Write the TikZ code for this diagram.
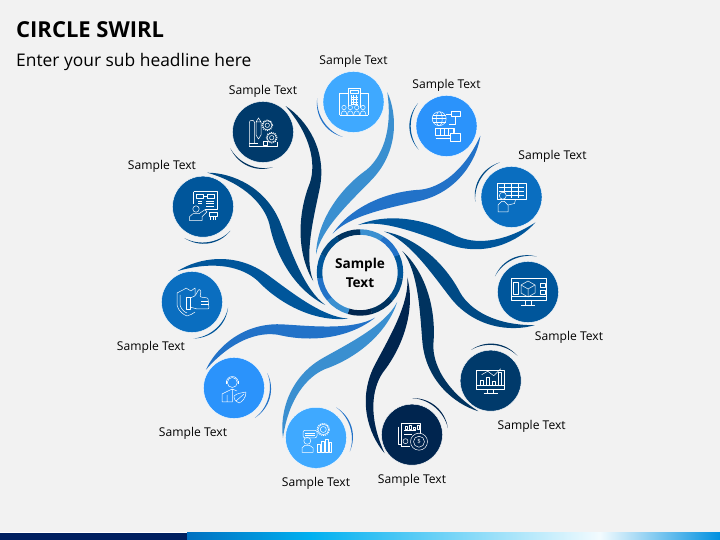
\documentclass[tikz,border=0pt]{standalone}
\usepackage{fontspec}
\setmainfont{Open Sans}
\usepackage{tikz}
\definecolor{paper}{HTML}{F2F2F2}
\definecolor{skyA}{HTML}{3FA9FF}
\definecolor{skyB}{HTML}{2B93FB}
\definecolor{midA}{HTML}{0A6EC0}
\definecolor{midB}{HTML}{00569B}
\definecolor{navyA}{HTML}{003A6B}
\definecolor{navyB}{HTML}{00254F}
\definecolor{bandA}{HTML}{3A8FD0}
\definecolor{bandB}{HTML}{2272C8}
\definecolor{bandC}{HTML}{00569B}
\definecolor{bandD}{HTML}{004A85}
\definecolor{bandE}{HTML}{00335F}
\definecolor{bandF}{HTML}{00254F}
\definecolor{barA}{HTML}{002060}
\definecolor{barB}{HTML}{0070C0}
\definecolor{barC}{HTML}{00B0F0}
\definecolor{barD}{HTML}{0090E0}

\begin{document}
\begin{tikzpicture}[x=1pt, y=1pt, node distance=43pt]
        \tikzstyle{disc}=[circle, inner sep=0pt, minimum size=61pt, draw=white, line width=.4pt]
        \tikzstyle{caption}=[inner sep=0pt, yshift=-2.2pt, font=\fontsize{12.1}{14}\selectfont, text=black]
        \tikzstyle{icon}=[draw=white, line width=.5pt, line join=round]
        \useasboundingbox (0,0) rectangle (720,540);
        \fill [paper] (0,0) rectangle (720,540);
        % bottom bar
        \fill [white] (0,7) rectangle (388,8.2);
        \fill [white] (695,7) rectangle (720,8.2);
        \fill [barA] (0,0) rectangle (187,7);
        \shade [left color=barB, right color=barC] (187,0) rectangle (310,7);
        \shade [left color=barC, right color=white!95!barC] (310,0) rectangle (600,7);
        \shade [left color=white!95!barC, right color=barD] (600,0) rectangle (720,7);
        % headings
        \node (title) [anchor=base west, inner sep=0pt, font=\bfseries\fontsize{22}{26}\selectfont] at (16,502.5) {CIRCLE SWIRL};
        \node (subtitle) [anchor=base west, inner sep=0pt, font=\fontsize{17.4}{21}\selectfont] at (16,473.5) {Enter your sub headline here};
        % hub
        \node (hub) [align=center, inner sep=0pt, font=\bfseries\fontsize{13.6}{19}\selectfont] at (360,267.5) {Sample\\Text};
        % swirls, each one turned about the hub
        \foreach \k/\col in {0/bandA,1/bandB,2/bandC,3/bandD,4/bandE,5/bandF,6/bandA,7/bandB,8/bandC,9/bandD,10/bandE} {
          \begin{scope}[shift={(hub)}, rotate=-32.73*\k]
            \fill [\col] (27.3,180.3) .. controls (37.5,158) and (39,120) .. (10.5,91.5)
              .. controls (-9.5,71) and (-39,43.5) .. (-44,18)
              .. controls (-43,51) and (-21,83) .. (6.3,102.5)
              .. controls (21.5,115) and (33,141) .. (27.3,180.3) -- cycle;
            \draw [\col, line width=5.5pt] (90:40.5) arc [start angle=90, end angle=57, radius=40.5];
          \end{scope}
        }
        % discs
        \node [disc, fill=skyA] (n1) at (353.5,438) {};
        \node [disc, fill=skyB] (n2) at (446.5,414) {};
        \node [disc, fill=midA] (n3) at (511.5,343) {};
        \node [disc, fill=midB] (n4) at (528,248) {};
        \node [disc, fill=navyA] (n5) at (490.7,159.3) {};
        \node [disc, fill=navyB] (n6) at (412,105.3) {};
        \node [disc, fill=skyA] (n7) at (316,102.2) {};
        \node [disc, fill=skyB] (n8) at (234,152) {};
        \node [disc, fill=midA] (n9) at (192,238) {};
        \node [disc, fill=midB] (n10) at (203,333.3) {};
        \node [disc, fill=navyA] (n11) at (263,408) {};
        % crescents
        \foreach \k/\col in {1/bandB,2/bandC,3/bandD,4/bandD,5/bandE,6/bandF,7/bandB,8/bandB,9/bandC,10/bandD,11/bandE} {
          \begin{scope}[shift={(n\k)}, rotate=-32.73*(\k-1)]
            \fill [\col] (-36.3,3.8) .. controls (-38.7,-14) and (-28.2,-30.3) .. (-10.7,-34.9)
              .. controls (-26.6,-29.3) and (-37.3,-13.1) .. (-36.3,3.8) -- cycle;
          \end{scope}
        }
        % captions
        \node [caption] (c1) [above of=n1] {Sample Text};
        \node [caption] (c2) [above of=n2] {Sample Text};
        \node [caption] (c3) [above of=n3, xshift=41pt] {Sample Text};
        \node [caption] (c4) [below of=n4, xshift=41pt] {Sample Text};
        \node [caption] (c5) [below of=n5, xshift=41pt] {Sample Text};
        \node [caption] (c6) [below of=n6] {Sample Text};
        \node [caption] (c7) [below of=n7] {Sample Text};
        \node [caption] (c8) [below of=n8, xshift=-41pt] {Sample Text};
        \node [caption] (c9) [below of=n9, xshift=-41pt] {Sample Text};
        \node [caption] (c10) [above of=n10, xshift=-41pt] {Sample Text};
        \node [caption] (c11) [above of=n11] {Sample Text};
        % icon: towers and people
        \begin{scope}[shift={(n1)}]
          \draw [icon] (-5.3,-6) -- (-5.3,14) -- (7,14) -- (7,-6);
          \draw [icon] (-14,-13) -- (-14,9) -- (-5.3,9) (14.7,-13) -- (14.7,9) -- (7,9);
          \draw [icon] (-3,9) rectangle (4.5,12);
          \draw [icon, step=2.5] (-3,-3) grid (4.5,7);
          \draw [icon] (-14,-13) -- (14.7,-13);
          \foreach \x in {-9.5,-3.2,3.2,9.5} {
            \draw [icon, fill=skyA] (\x,-5.5) circle (2.2);
            \draw [icon, fill=skyA] (\x-3,-13) .. controls (\x-3,-7.5) and (\x+3,-7.5) .. (\x+3,-13);
          }
        \end{scope}
        % icon: globe and flow chart
        \begin{scope}[shift={(n2)}]
          \draw [icon] (-7.3,7.3) circle (7) (-7.3,7.3) ellipse (3 and 7);
          \draw [icon] (-14.3,7.3) -- (-.3,7.3) (-13.5,11) -- (-1,11) (-13.5,3.6) -- (-1,3.6);
          \draw [icon] (5,10) rectangle (14,14.5) (-.3,12) -- (5,12) (9,10) -- (9,2) -- (2,2);
          \draw [icon] (-11,-2) rectangle (8,-9) (-11,-12) -- (4,-12) -- (4,-9);
          \draw [icon] (-6,-2) -- (-6,-9) (-2,-2) -- (-2,-9) (2,-2) -- (2,-9);
          \draw [icon, fill=skyB] (4,-15) rectangle (14,-7) (7,-7) -- (7,-2);
        \end{scope}
        % icon: table and presenter
        \begin{scope}[shift={(n3)}]
          \draw [icon] (-14.7,-2.7) rectangle (14.3,14);
          \foreach \y in {1.5,5.5,9.5} {\draw [icon] (-13,\y) -- (12.5,\y);}
          \foreach \x in {-7,0,7} {\draw [icon] (\x,12.5) -- (\x,-1);}
          \draw [icon, fill=midA] (-8.7,1.3) circle (3.5);
          \draw [icon, fill=midA] (-13.5,-15) -- (-13.5,-8) -- (-10,-4.5) -- (-7,-4.5) -- (-3.5,-8) -- (-3.5,-15) -- cycle;
          \draw [icon] (-3.5,-8) -- (3,-6.5) -- (4,-2.7);
        \end{scope}
        % icon: monitor and cube
        \begin{scope}[shift={(n4)}]
          \draw [icon] (-16.7,-8) rectangle (18,14) (-16.7,-4) -- (18,-4);
          \draw [icon] (-3,-8) -- (-3,-13) (3,-8) -- (3,-13) (-7,-13) -- (7,-13);
          \draw [icon] (-14.5,-2) rectangle (-10,10);
          \draw [icon] (12,9) rectangle (17,4.5) (12,2) rectangle (17,-2);
          \draw [icon] (0,11) -- (7,7) -- (7,-1) -- (0,-5) -- (-7,-1) -- (-7,7) -- cycle;
          \draw [icon] (-7,7) -- (0,3) -- (7,7) (0,3) -- (0,-5);
        \end{scope}
        % icon: monitor and charts
        \begin{scope}[shift={(n5)}]
          \draw [icon] (-14,-9) rectangle (14,10.5) (-14,-5) -- (14,-5);
          \draw [icon] (-3,-9) -- (-3,-13) (3,-9) -- (3,-13) (-7,-13) -- (7,-13);
          \draw [icon] (-10,-5) rectangle (-7,0) (-4,-5) rectangle (-1,3) (2,-5) rectangle (5,-1) (8,-5) rectangle (11,8);
          \draw [icon] (-9,6) -- (-3,9.5) -- (3,5) -- (10,12);
        \end{scope}
        % icon: invoice and coin
        \begin{scope}[shift={(n6)}]
          \draw [icon] (-11,-12) -- (-11,11.3) -- (8,11.3) -- (8,0) (-11,-12) -- (-2,-12);
          \draw [icon] (-13.7,8) -- (-13.7,-9.5) -- (-11,-9.5);
          \draw [icon] (-8,4) -- (4,4) (-8,0) -- (0,0);
          \draw [icon] (-7,5) rectangle (-5,8) (-3,5) rectangle (-1,9.5) (1,5) rectangle (3,7.5) (5,5) rectangle (7,9);
          \draw [icon] (-6.5,-6.5) circle (2.5);
          \draw [icon, fill=navyB] (7,-7) circle (8.5) (7,-7) circle (5.5);
          \node (c6coin) [text=white, inner sep=0pt, font=\fontsize{6}{6}\selectfont] at (7,-7) {\$};
        \end{scope}
        % icon: speaker, gear and bars
        \begin{scope}[shift={(n7)}]
          \draw [icon, rounded corners=2pt] (-13,0) rectangle (1,7.5);
          \draw [icon] (-11,2.5) -- (-1,2.5) (-11,5) -- (-1,5);
          \draw [icon] (7.3,8.3) circle (3) (7.3,8.3) circle (5.3);
          \draw [icon, dash pattern=on 1pt off 1pt, line width=1pt] (7.3,8.3) circle (6);
          \draw [icon] (-8.7,-3) circle (3.5);
          \draw [icon] (-14,-14.5) -- (-14,-10) -- (-11,-7.5) -- (-6.5,-7.5) -- (-3,-10) -- (-3,-14.5) -- cycle;
          \draw [icon] (1,-14.5) rectangle (4,-6) (5,-14.5) rectangle (8,-3) (9,-14.5) rectangle (12,-1) (13,-14.5) rectangle (15.5,-4);
        \end{scope}
        % icon: headset agent and shield
        \begin{scope}[shift={(n8)}]
          \draw [icon] (-1.7,5.5) circle (5);
          \draw [icon] (-7.7,5.5) arc [start angle=180, end angle=0, radius=6];
          \draw [icon, line width=1pt] (-8,4) -- (-8,7) (4.6,4) -- (4.6,7);
          \draw [icon] (-12,-14) -- (-12,-6) -- (-6,-3) -- (-1.7,-1) -- (3,-3) (-7,-14) -- (-7,-7) (-1.7,-1) -- (-1.7,-14) -- (-12,-14);
          \draw [icon, fill=skyB] (0,-8) .. controls (3,-5) and (8,-5) .. (12,-4) .. controls (12,-10) and (8,-14) .. (5,-15) .. controls (2,-14) and (0,-12) .. (0,-8) -- cycle;
          \draw [icon] (2,-13) -- (10,-6);
        \end{scope}
        % icon: shield and thumb
        \begin{scope}[shift={(n9)}]
          \draw [icon] (-6,14) -- (-1,11) -- (3,14) -- (3,7);
          \draw [icon] (-6,14) .. controls (-8,12) and (-12,11) .. (-15,9) -- (-15,-3) .. controls (-14,-9) and (-8,-13) .. (-5,-14) .. controls (-2,-13) and (1,-12) .. (3,-10);
          \draw [icon] (-12,7) -- (-12,-3) .. controls (-11,-7) and (-8,-10) .. (-5,-11);
          \draw [icon] (-6,5) rectangle (-2,-7);
          \draw [icon, rounded corners=1pt] (-2,4) -- (3,6) -- (7,13) -- (9,11) -- (8,5) -- (16,4) -- (17,-7) -- (5,-7) -- (-2,-5);
          \draw [icon] (9,1) -- (16,1) (9,-2) -- (17,-2);
        \end{scope}
        % icon: board and presenter
        \begin{scope}[shift={(n10)}]
          \draw [icon] (-9.3,15) -- (14.7,15) -- (14.7,-3) -- (2,-3) (-9.3,15) -- (-9.3,3);
          \draw [icon] (-6.5,12.5) rectangle (0,8.5) (4,12.5) rectangle (11.5,8.5) (0,10.5) -- (4,10.5);
          \draw [icon] (-5,5.5) -- (-1,5.5) (-5,3) -- (-1,3) (3,5.5) -- (11,5.5) (3,3) -- (11,3) (3,.5) -- (11,.5);
          \draw [icon, fill=midB] (-7,-2.3) circle (3.2);
          \draw [icon, fill=midB] (-13.5,-14) -- (-13.5,-10) -- (-10,-7) -- (-4,-7) -- (2,-3) -- (4,-5) -- (-1,-10) -- (-1,-14) -- cycle;
          \draw [icon] (6,-10) rectangle (14,-6) (7.5,-10) -- (7.5,-13) (10,-10) -- (10,-13) (12.5,-10) -- (12.5,-13);
        \end{scope}
        % icon: plan, pencil and gears
        \begin{scope}[shift={(n11)}]
          \draw [icon] (-13.7,-14.3) -- (-13.7,9.5) .. controls (-13.7,12.5) and (-8.5,12.5) .. (-8.5,9.5) -- (-8.5,-11);
          \draw [icon] (-13.7,-14.3) -- (14,-14.3) -- (14,-10.5) (-13.7,-11) -- (-5,-11);
          \draw [icon] (-7,-3) -- (-7,10) -- (-4.5,14) -- (-2,10) -- (-2,-3) -- (-4.5,-7) -- cycle (-7,10) -- (-2,10);
          \draw [icon] (0,-13) rectangle (4,-9);
          \draw [icon] (4.3,6.7) circle (2.2) (4.3,6.7) circle (4.6) (8.7,-5.7) circle (2.2) (8.7,-5.7) circle (4.6);
          \draw [icon, dash pattern=on 1pt off 1pt, line width=1pt] (4.3,6.7) circle (5.3) (8.7,-5.7) circle (5.3);
        \end{scope}
      \end{tikzpicture}
\end{document}
